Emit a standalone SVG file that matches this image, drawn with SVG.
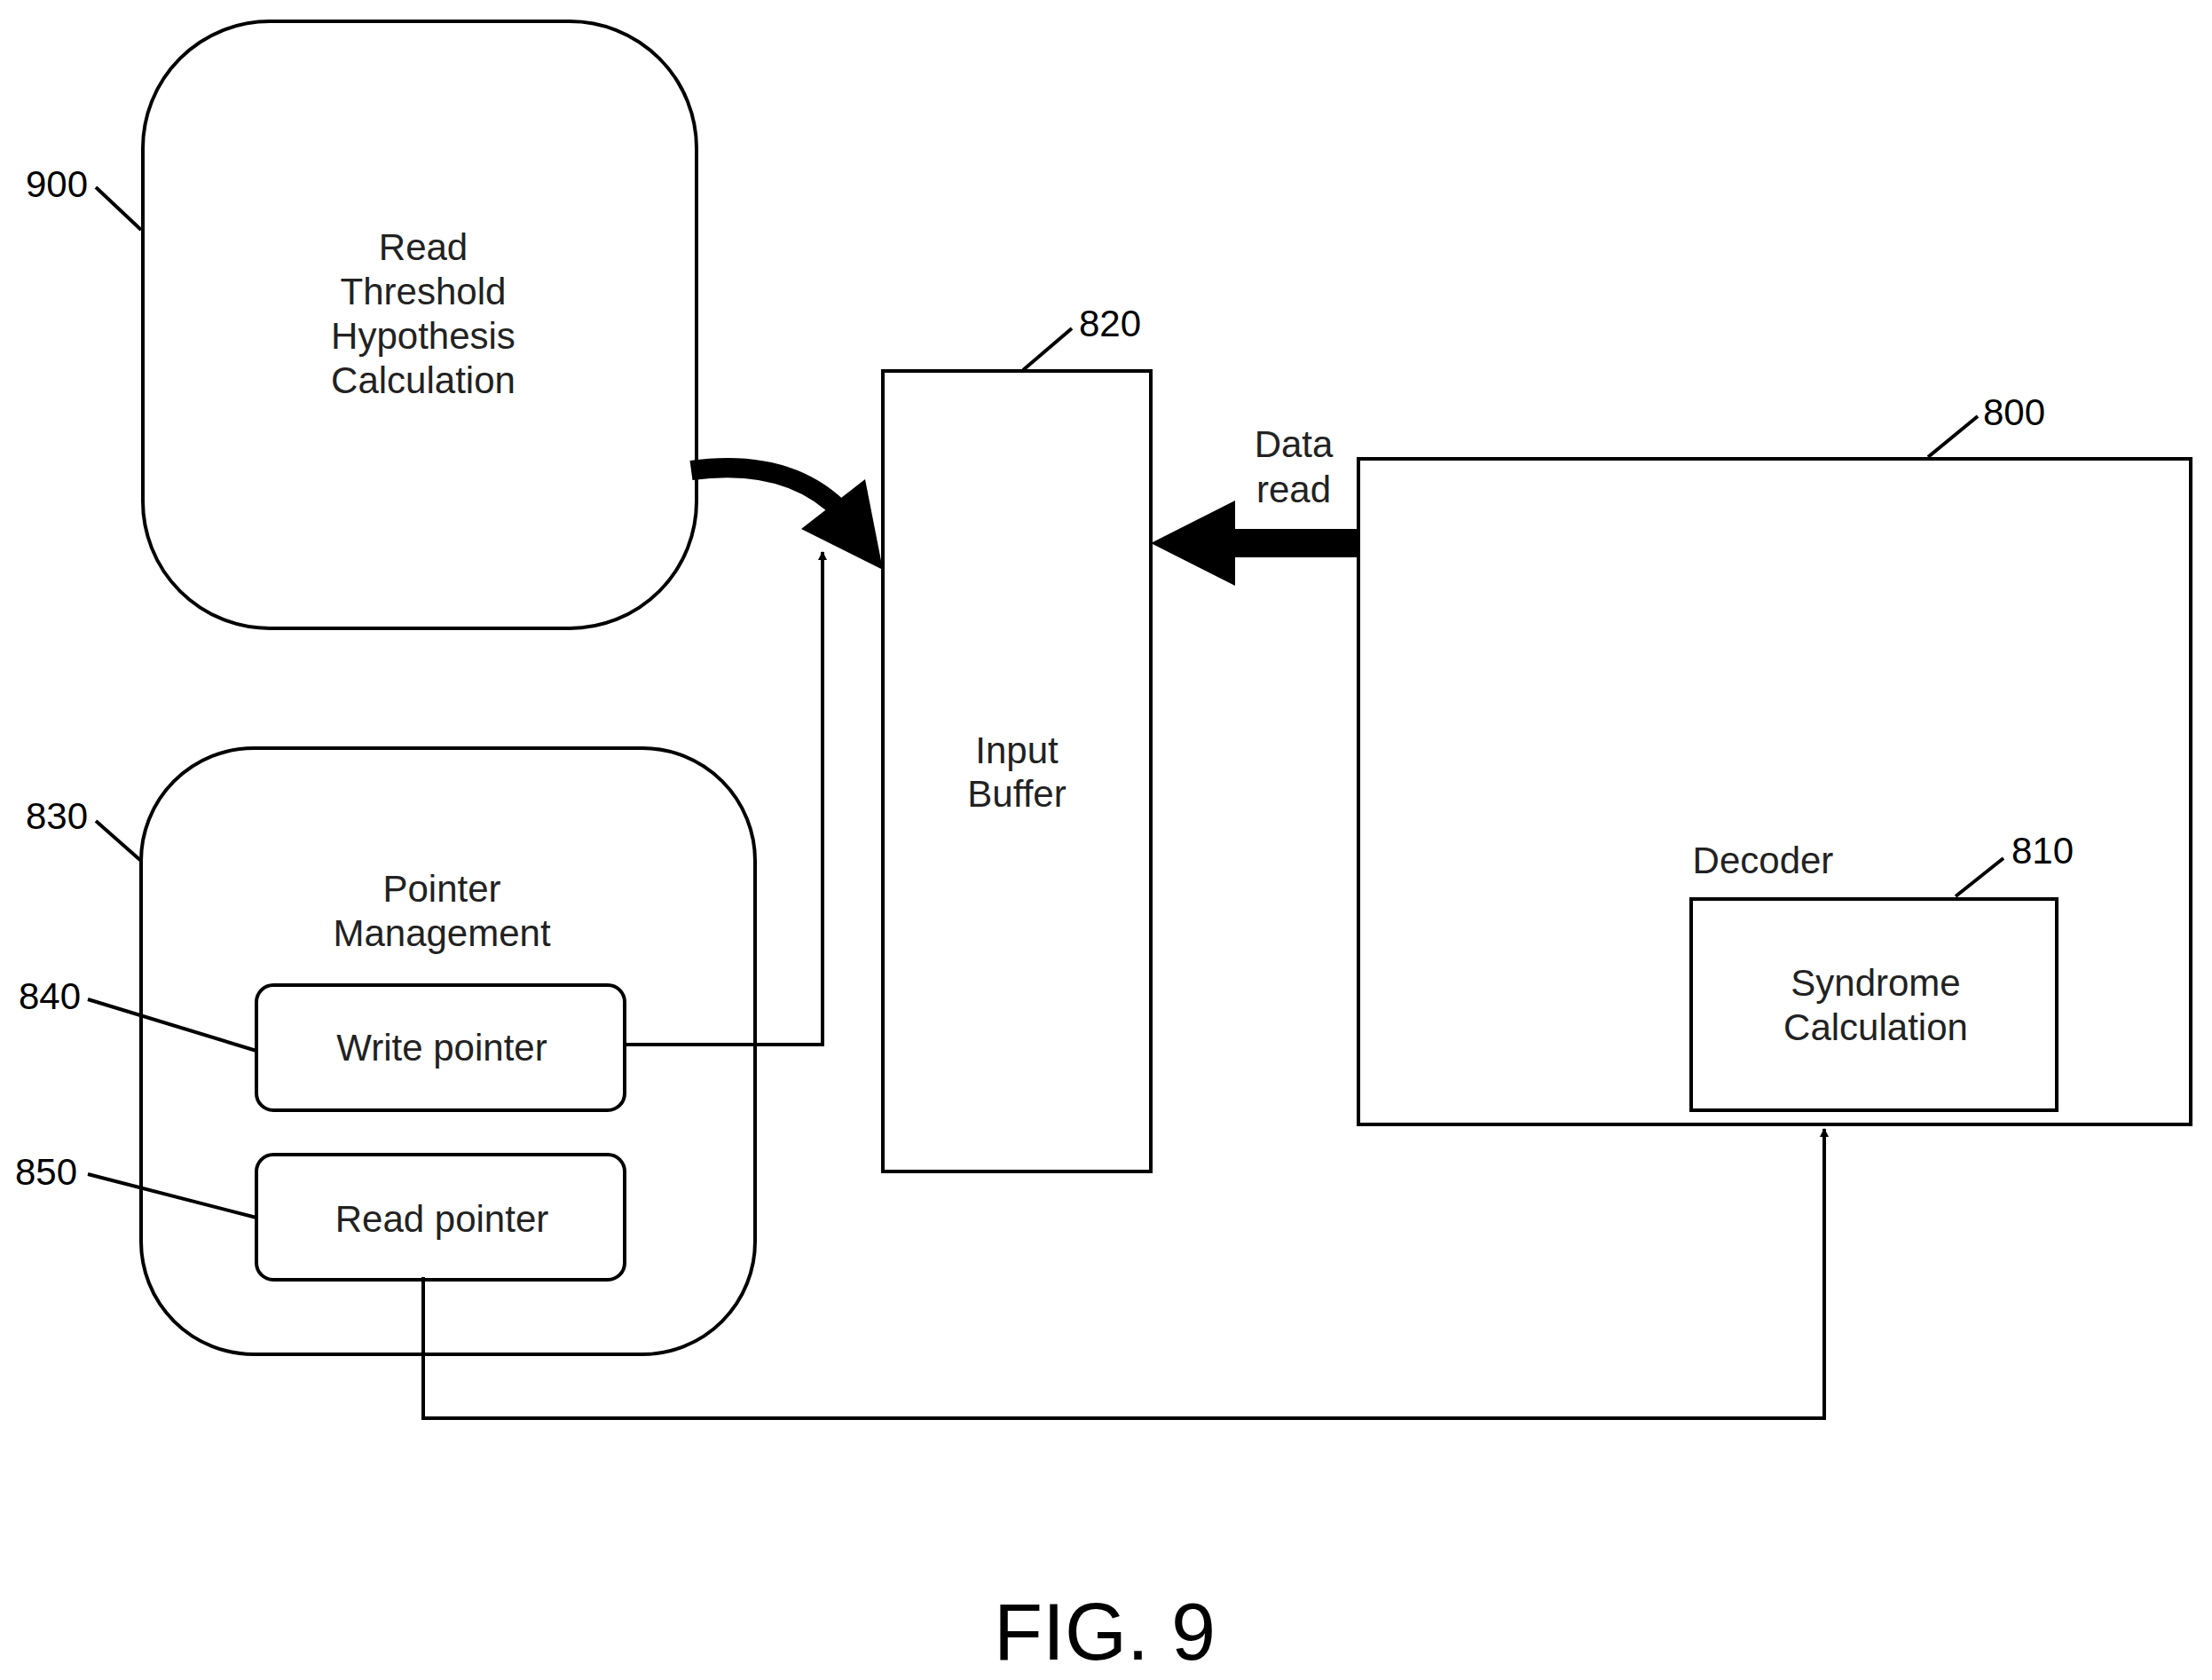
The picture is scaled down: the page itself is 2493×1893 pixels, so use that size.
<svg xmlns="http://www.w3.org/2000/svg" width="2493" height="1893" viewBox="0 0 2493 1893">
<defs>
<style>
.box{fill:#fff;stroke:#000;stroke-width:4}
.t{font-family:"Liberation Sans",Arial,sans-serif;font-size:42px;text-anchor:middle;fill:#222}
.lbl{font-family:"Liberation Sans",Arial,sans-serif;font-size:42px;text-anchor:middle;fill:#000}
.ln{fill:none;stroke:#000;stroke-width:4}
</style>
<marker id="ah" markerWidth="10" markerHeight="10" refX="9" refY="5" orient="auto" markerUnits="userSpaceOnUse" viewBox="0 0 10 10">
<path d="M0,0 L10,5 L0,10 Z" fill="#000"/>
</marker>
<marker id="ah2" markerWidth="24" markerHeight="30" refX="24" refY="15" orient="auto" markerUnits="userSpaceOnUse">
<path d="M0,0 L24,15 L0,30 Z" fill="#000"/>
</marker>
</defs>
<rect width="2493" height="1893" fill="#fff"/>
<g id="n900">
<rect class="box" x="161" y="24" width="624" height="684" rx="143"/>
<text class="t" x="477" y="293">Read</text>
<text class="t" x="477" y="343">Threshold</text>
<text class="t" x="477" y="393">Hypothesis</text>
<text class="t" x="477" y="443">Calculation</text>
<text class="lbl" x="64" y="222">900</text>
<line class="ln" x1="108" y1="211" x2="159" y2="259"/>
</g>
<g id="n820">
<rect class="box" x="995" y="418" width="302" height="902"/>
<text class="t" x="1146" y="860">Input</text>
<text class="t" x="1146" y="909">Buffer</text>
<text class="lbl" x="1251" y="379">820</text>
<line class="ln" x1="1153" y1="417" x2="1208" y2="370"/>
</g>
<g id="n800">
<rect class="box" x="1531" y="517" width="938" height="750"/>
<text class="t" x="1987" y="984">Decoder</text>
<text class="lbl" x="2270" y="479">800</text>
<line class="ln" x1="2173" y1="515" x2="2229" y2="469"/>
</g>
<g id="n810">
<rect class="box" x="1906" y="1013" width="412" height="238"/>
<text class="t" x="2114" y="1122">Syndrome</text>
<text class="t" x="2114" y="1172">Calculation</text>
<text class="lbl" x="2302" y="973">810</text>
<line class="ln" x1="2204" y1="1010" x2="2258" y2="967"/>
</g>
<g id="n830">
<rect class="box" x="159" y="843" width="692" height="683" rx="127"/>
<text class="t" x="498" y="1016">Pointer</text>
<text class="t" x="498" y="1066">Management</text>
<text class="lbl" x="64" y="934">830</text>
<line class="ln" x1="108" y1="925" x2="159" y2="970"/>
</g>
<g id="n840">
<rect class="box" x="289" y="1110" width="415" height="141" rx="19"/>
<text class="t" x="498" y="1195">Write pointer</text>
<text class="lbl" x="56" y="1137">840</text>
<line class="ln" x1="99" y1="1126" x2="289" y2="1184"/>
</g>
<g id="n850">
<rect class="box" x="289" y="1301" width="415" height="141" rx="19"/>
<text class="t" x="498" y="1388">Read pointer</text>
<text class="lbl" x="52" y="1335">850</text>
<line class="ln" x1="99" y1="1323" x2="289" y2="1372"/>
</g>
<g id="connectors">
<polyline class="ln" points="704,1177 927,1177 927,622" marker-end="url(#ah)"/>
<polyline class="ln" points="477,1439 477,1598 2056,1598 2056,1272" marker-end="url(#ah)"/>
<rect x="1388" y="596" width="143" height="32" fill="#000"/>
<polygon points="1297,612 1392,564 1392,660" fill="#000"/>
<path d="M779,530 Q890,515 950,578" fill="none" stroke="#000" stroke-width="22"/>
<polygon points="995,642 903,596 975,540" fill="#000"/>
<text class="t" x="1458" y="515">Data</text>
<text class="t" x="1458" y="566">read</text>
</g>
<text x="1245" y="1870" font-family="Liberation Sans,Arial,sans-serif" font-size="90" text-anchor="middle">FIG. 9</text>
</svg>
